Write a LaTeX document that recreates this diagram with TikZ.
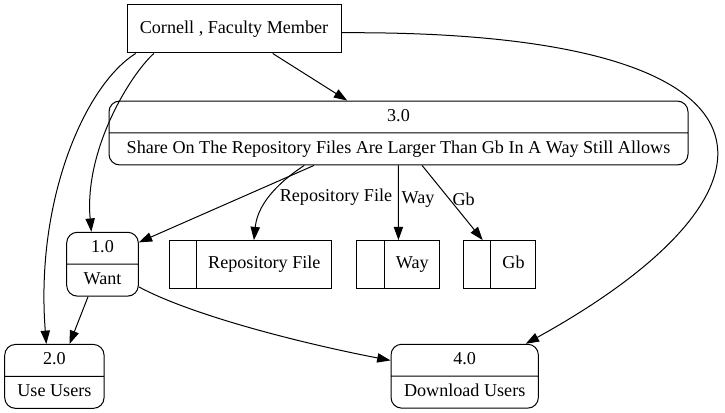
\documentclass[tikz,border=0pt]{standalone}
\usepackage{fontspec}
\setmainfont{Liberation Serif}
\usetikzlibrary{
    arrows.meta,
    shapes.multipart
}

\begin{document}
\begin{tikzpicture}[x=0.75pt, y=-0.75pt,
    every node/.style={font=\fontsize{13.6}{16}\selectfont},
    ent/.style={draw, line width=0.75pt, minimum width=160.5pt, minimum height=36pt},
    proc/.style={draw, line width=0.75pt, rectangle split, rectangle split parts=2,
        rounded corners=8pt, inner xsep=4pt, inner ysep=3.6pt},
    store/.style={draw, line width=0.75pt, rectangle split, rectangle split horizontal,
        rectangle split parts=2, inner xsep=8.4pt, inner ysep=9.85pt},
    flow/.style={line width=0.75pt, -{Triangle[length=10pt, width=7pt]}},
    lbl/.style={inner sep=2pt}
]
\useasboundingbox (0,0) rectangle (725,413);

% External entity
\node[ent] (corn) at (234,29) {Cornell , Faculty Member};

% Processes
\node[proc, minimum width=434.25pt] (p3) at (398.5,133)
    {3.0\strut\nodepart{two}Share On The Repository Files Are Larger Than Gb In A Way Still Allows\strut};
\node[proc, minimum width=53.7pt] (p1) at (102.5,264.2) {1.0\strut\nodepart{two}Want\strut};
\node[proc, minimum width=74.5pt] (p2) at (54.4,376.4) {2.0\strut\nodepart{two}Use Users\strut};
\node[proc, minimum width=110.5pt] (p4) at (464.7,376.2) {4.0\strut\nodepart{two}Download Users\strut};

% Data stores
\node[store] (sRepo) at (250.5,264.5) {\hspace*{3.2pt}\strut\nodepart{two}Repository File\strut};
\node[store] (sWay) at (398.4,264.4) {\hspace*{3.2pt}\strut\nodepart{two}Way\strut};
\node[store] (sGb) at (499.7,264.4) {\hspace*{3.2pt}\strut\nodepart{two}Gb\strut};

% Flows
\draw[flow] (corn) -- (p3);
\draw[flow] (corn.197) .. controls (130,75) and (84,150) .. (p1.109);
\draw[flow] (corn.194) .. controls (85,85) and (35,200) .. (p2.104);
\draw[flow] (corn.358) .. controls (804,30) and (804,190) .. (p4.28);
\draw[flow] (p3.201) -- (p1.31);
\draw[flow] (p3.199.6) .. controls (285,178) and (258,200) .. node[lbl, anchor=west, pos=.56, xshift=5pt] {Repository File} (sRepo.82);
\draw[flow] (p3) -- node[lbl, anchor=west, pos=.45] {Way} (sWay);
\draw[flow] (p3.306) -- node[lbl, anchor=west, pos=.45] {Gb} (sGb.125);
\draw[flow] (p1.246) -- (p2.65);
\draw[flow] (p1.328) .. controls (195,317) and (310,345) .. (p4.168);

\end{tikzpicture}
\end{document}
